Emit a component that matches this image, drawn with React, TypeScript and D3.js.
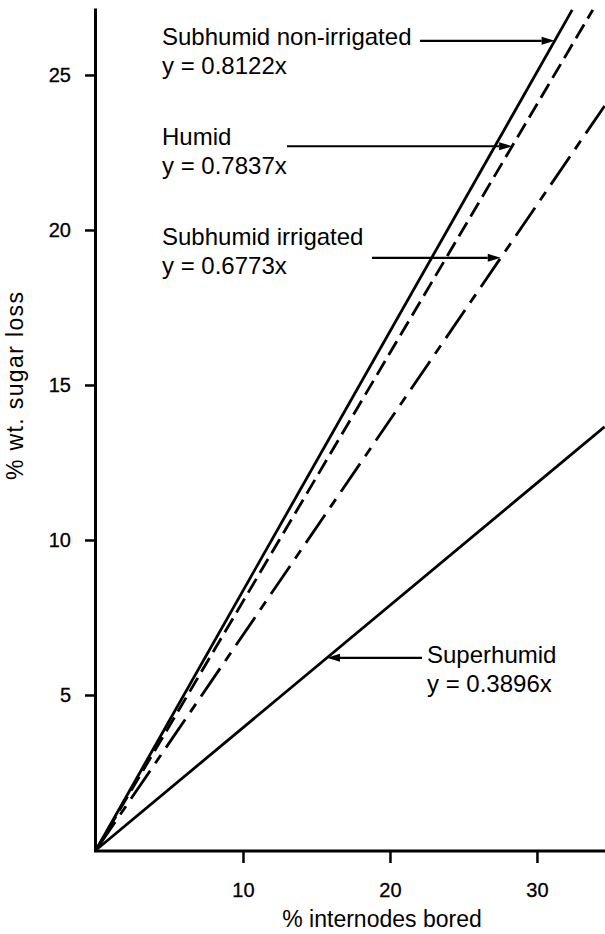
import { useEffect, useRef } from "react";
import * as d3 from "d3";

// regression lines (start at the origin)
const seriesNames = ["Subhumid non-irrigated", "Humid", "Subhumid irrigated", "Superhumid"];
const equations = ["y = 0.8122x", "y = 0.7837x", "y = 0.6773x", "y = 0.3896x"];
const lineEndX = [32.4, 33.8, 34.6, 34.6];
const lineEndY = [27.1, 27.1, 24.0, 13.65];
// y value where each label arrow touches its line
const arrowAtY = [26.1, 22.7, 19.1, 6.2];

const xTicks = [10, 20, 30];
const yTicks = [5, 10, 15, 20, 25];

const FONT = "'Liberation Sans', Arial, Helvetica, sans-serif";

// label layout: text x, first baseline, arrow tail x, arrow side
const labelLayout = [
  { x: 162, y: 45, tail: 420, left: true },
  { x: 162, y: 145, tail: 287, left: true },
  { x: 162, y: 245, tail: 372, left: true },
  { x: 427, y: 663, tail: 422, left: false },
];
const dashes = [null, "16,7", "34,9,10,9", null];

export default function App() {
  const svgRef = useRef<SVGSVGElement | null>(null);

  useEffect(() => {
    if (!svgRef.current) return;
    const W = 605, H = 934;
    const svg = d3.select(svgRef.current);
    svg.selectAll("*").remove();
    svg.attr("width", W).attr("height", H).attr("viewBox", `0 0 ${W} ${H}`);

    const x = d3.scaleLinear().domain([0, 34.63]).range([96, 605]);
    const y = d3.scaleLinear().domain([0, 27.16]).range([850, 8]);

    svg.append("rect").attr("width", W).attr("height", H).attr("fill", "#fff");

    // axes
    const yAxis = svg.append("g").attr("transform", "translate(95,0)")
      .call(d3.axisLeft(y).tickValues(yTicks).tickSize(10).tickPadding(14).tickSizeOuter(0));
    yAxis.select(".domain").attr("stroke-width", 3);
    yAxis.selectAll(".tick line").attr("stroke-width", 2.5);
    yAxis.selectAll("text").attr("font-size", 20).attr("font-family", FONT).attr("fill", "#000")
      .attr("stroke", "#000").attr("stroke-width", 0.3);

    const xAxis = svg.append("g").attr("transform", "translate(0,851)")
      .call(d3.axisBottom(x).tickValues(xTicks).tickSize(12).tickPadding(20).tickSizeOuter(0));
    xAxis.select(".domain").attr("stroke-width", 3).attr("d", `M${x(0) - 2},0H605`);
    xAxis.selectAll(".tick line").attr("stroke-width", 2.5);
    xAxis.selectAll("text").attr("font-size", 20).attr("font-family", FONT).attr("fill", "#000")
      .attr("stroke", "#000").attr("stroke-width", 0.3);

    svg.append("text").attr("x", 382).attr("y", 927).attr("text-anchor", "middle")
      .attr("font-size", 23).attr("font-family", FONT).text("% internodes bored");
    svg.append("text").attr("transform", "translate(23,386) rotate(-90)").attr("text-anchor", "middle")
      .attr("font-size", 23).attr("font-family", FONT)
      .attr("textLength", 188).attr("lengthAdjust", "spacing").text("% wt. sugar loss");

    // lines
    const line = d3.line<[number, number]>().x((d) => x(d[0])).y((d) => y(d[1]));
    seriesNames.forEach((_, i) => {
      const p = svg.append("path")
        .datum([[0, 0], [lineEndX[i], lineEndY[i]]] as [number, number][])
        .attr("d", line).attr("fill", "none").attr("stroke", "#000").attr("stroke-width", 2.8);
      if (dashes[i]) p.attr("stroke-dasharray", dashes[i] as string);
    });

    // labels + arrows
    seriesNames.forEach((name, i) => {
      const L = labelLayout[i];
      const t = svg.append("text").attr("font-size", 24).attr("font-family", FONT).attr("fill", "#000");
      t.append("tspan").attr("x", L.x).attr("y", L.y).text(name);
      t.append("tspan").attr("x", L.x).attr("y", L.y + 29).text(equations[i]);

      const ay = y(arrowAtY[i]);
      const tipX = x(lineEndX[i] * (arrowAtY[i] / lineEndY[i]));
      const dir = L.left ? 1 : -1;
      const headLen = 13;
      svg.append("line").attr("x1", L.tail).attr("y1", ay).attr("x2", tipX - dir * headLen).attr("y2", ay)
        .attr("stroke", "#000").attr("stroke-width", 2.2);
      svg.append("path")
        .attr("d", `M${tipX},${ay}L${tipX - dir * headLen},${ay - 4}L${tipX - dir * headLen},${ay + 4}Z`)
        .attr("fill", "#000");
    });
  }, []);

  return <svg ref={svgRef} style={{ position: "absolute", left: 0, top: 0, display: "block" }} />;
}
